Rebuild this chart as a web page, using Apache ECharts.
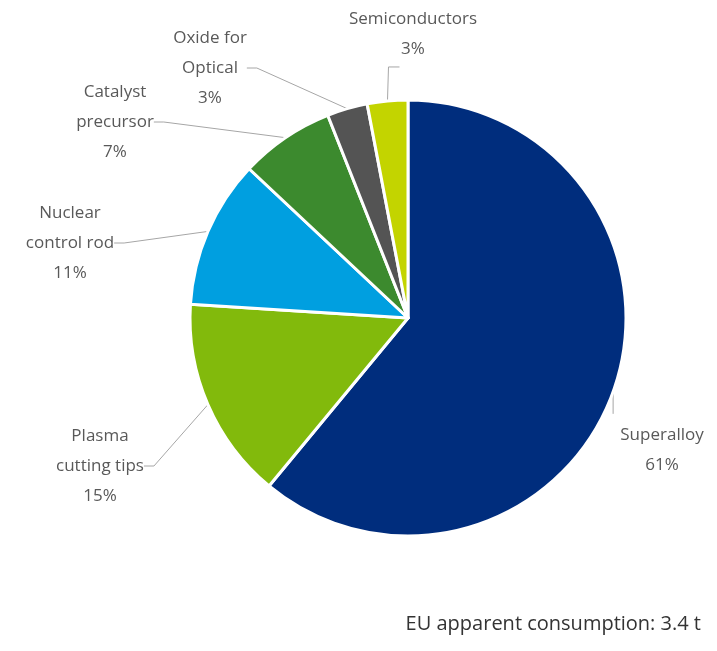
<!DOCTYPE html>
<html>
<head>
<meta charset="utf-8">
<script src="https://cdn.jsdelivr.net/npm/echarts@6/dist/echarts.min.js"></script>
<style>
html,body{margin:0;padding:0;background:#fff;}
#chart{width:717px;height:651px;}
</style>
</head>
<body>
<div id="chart"></div>
<script>
var categories = ['Superalloy', 'Plasma cutting tips', 'Nuclear control rod', 'Catalyst precursor', 'Oxide for Optical', 'Semiconductors'];
var labelTexts = ['Superalloy', 'Plasma\ncutting tips', 'Nuclear\ncontrol rod', 'Catalyst\nprecursor', 'Oxide for\nOptical', 'Semiconductors'];
var shares = [61, 15, 11, 7, 3, 3];
var colors = ['#002D7D', '#82BA0C', '#009FE0', '#3C8A2E', '#545454', '#C3D400'];
var footnote = 'EU apparent consumption: 3.4 t';

// label centre positions (pixels)
var labelPos = [[662, 450], [100, 466], [70, 243], [115, 122], [210, 68], [413, 34]];

var chart = echarts.init(document.getElementById('chart'));
var data = categories.map(function (c, i) {
  return { name: c, value: shares[i], itemStyle: { color: colors[i] } };
});
chart.setOption({
  animation: false,
  title: {
    text: footnote,
    right: 11,
    bottom: 12,
    textStyle: { fontFamily: 'Open Sans', fontSize: 20, fontWeight: 'normal', color: '#333333' }
  },
  series: [{
    type: 'pie',
    center: [408, 318],
    radius: [0, 218],
    startAngle: 90,
    clockwise: true,
    data: data,
    itemStyle: { borderColor: '#ffffff', borderWidth: 3 },
    label: {
      show: true,
      formatter: function (p) { return labelTexts[p.dataIndex] + '\n' + p.value + '%'; },
      fontFamily: 'Open Sans',
      fontSize: 17,
      lineHeight: 30,
      color: '#595959',
      align: 'center',
      overflow: 'none'
    },
    labelLine: {
      show: true,
      length: 10,
      length2: 10,
      lineStyle: { color: '#A6A6A6', width: 1 }
    },
    labelLayout: function (params) {
      var p = labelPos[params.dataIndex];
      var out = { x: p[0], y: p[1], align: 'center', verticalAlign: 'middle' };
      var pts = params.labelLinePoints;
      if (pts && pts.length) {
        var a = pts[0];
        if (params.dataIndex === 0) {
          out.labelLinePoints = [[a[0], a[1]], [a[0], a[1] + 22], [a[0], a[1] + 22]];
        } else if (params.dataIndex === 5) {
          out.labelLinePoints = [[a[0], a[1]], [a[0] + 1, a[1] - 34], [a[0] + 12, a[1] - 34]];
        }
      }
      return out;
    },
    emphasis: { disabled: true }
  }]
});
</script>
</body>
</html>
